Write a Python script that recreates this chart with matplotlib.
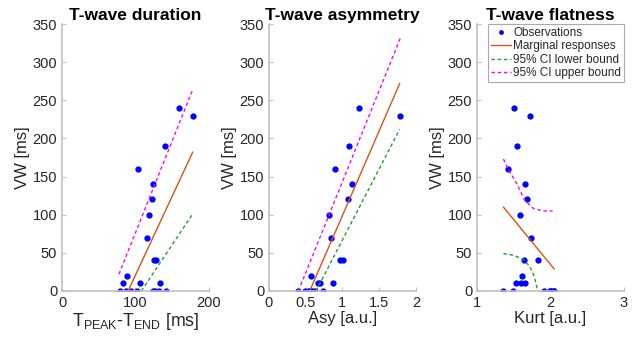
import matplotlib.pyplot as plt

plt.rcParams['font.family'] = ['Liberation Sans', 'DejaVu Sans']
plt.rcParams['mathtext.fontset'] = 'custom'
plt.rcParams['mathtext.rm'] = 'Liberation Sans'
plt.rcParams['mathtext.it'] = 'Liberation Sans'

# observations (VW in ms)
vw = [240, 230, 190, 160, 140, 120, 100, 70, 40, 40, 20, 10, 10, 10,
      0, 0, 0, 0, 0, 0, 0, 0]

# T-wave duration (Tpeak-Tend, ms)
tpe = [159, 178, 140, 103, 124, 123, 118, 116, 125, 128, 89, 83, 106, 134,
       78.5, 86.5, 94, 102, 124, 126, 132, 141]
tpe_fit_x = [90, 178]
tpe_fit_y = [0, 182]
tpe_lo_x = [108, 178]
tpe_lo_y = [0, 101]
tpe_hi_x = [77.5, 178]
tpe_hi_y = [22, 264]

# T-wave asymmetry
asy = [1.23, 1.78, 1.09, 0.905, 1.13, 1.07, 0.815, 0.84, 0.97, 1.01, 0.577,
       0.67, 0.70, 0.87, 0.40, 0.49, 0.545, 0.55, 0.577, 0.58, 0.62, 0.73]
asy_fit_x = [0.554, 1.78]
asy_fit_y = [0, 272]
asy_lo_x = [0.64, 1.78]
asy_lo_y = [0, 212]
asy_hi_x = [0.40, 1.79]
asy_hi_y = [0, 332]

# T-wave flatness (kurtosis)
kurt = [1.50, 1.72, 1.55, 1.42, 1.65, 1.68, 1.58, 1.73, 1.64, 1.83, 1.61,
        1.53, 1.60, 1.66, 1.36, 1.49, 1.91, 1.99, 2.02, 2.05, 2.05, 1.99]
kurt_fit_x = [1.36, 2.05]
kurt_fit_y = [110, 29]
kurt_lo_x = [1.36, 1.49, 1.63, 1.72, 1.78, 1.82]
kurt_lo_y = [49, 47, 41.5, 32, 19, 3.5]
kurt_hi_x = [1.36, 1.43, 1.54, 1.65, 1.77, 1.90, 2.03]
kurt_hi_y = [173, 159, 141, 119, 108, 105, 105]

panels = [
    ("T-wave duration", r"T$_{\mathrm{PEAK}}$-T$_{\mathrm{END}}$ [ms]", tpe,
     (tpe_fit_x, tpe_fit_y), (tpe_lo_x, tpe_lo_y), (tpe_hi_x, tpe_hi_y),
     (0, 200), [0, 100, 200]),
    ("T-wave asymmetry", "Asy [a.u.]", asy,
     (asy_fit_x, asy_fit_y), (asy_lo_x, asy_lo_y), (asy_hi_x, asy_hi_y),
     (0, 2), [0, 0.5, 1, 1.5, 2]),
    ("T-wave flatness", "Kurt [a.u.]", kurt,
     (kurt_fit_x, kurt_fit_y), (kurt_lo_x, kurt_lo_y), (kurt_hi_x, kurt_hi_y),
     (1, 3), [1, 2, 3]),
]

fig = plt.figure(figsize=(6.44, 3.37), dpi=100)
lefts = [0.0963, 0.4177, 0.7407]
txt = '#262626'
spine = '#c0c0c0'

for i, (left, (title, xlab, x, fit, lo, hi, xlim, xticks)) in enumerate(zip(lefts, panels)):
    ax = fig.add_axes([left, 0.1365, 0.228, 0.792])
    ax.plot(x, vw, '.', color='#0000ff', markersize=7, label='Observations')
    ax.plot(fit[0], fit[1], '-', color='#d95319', lw=1, label='Marginal responses')
    ax.plot(lo[0], lo[1], '--', color='#22a022', lw=1, dashes=(2.5, 2),
            label='95% CI lower bound')
    ax.plot(hi[0], hi[1], '--', color='#ff00ff', lw=1, dashes=(2.5, 2),
            label='95% CI upper bound')
    ax.set_xlim(xlim)
    ax.set_ylim(0, 350)
    ax.set_xticks(xticks)
    ax.set_xticklabels([f'{t:g}' for t in xticks])
    ax.set_yticks(range(0, 351, 50))
    ax.set_title(title, fontsize=12.5, fontweight='bold', color='black', pad=3)
    ax.set_xlabel(xlab, fontsize=12.8 if i == 0 else 12, color=txt, labelpad=1)
    ax.set_ylabel('VW [ms]', fontsize=12, color=txt, labelpad=2)
    ax.tick_params(direction='in', labelsize=10.5, colors=txt, length=3,
                   color=spine)
    for s in ['top', 'right']:
        ax.spines[s].set_visible(False)
    for s in ['left', 'bottom']:
        ax.spines[s].set_color(spine)
        ax.spines[s].set_linewidth(1.2)

leg = ax.legend(loc='upper right', fontsize=8.5, fancybox=False,
                edgecolor='#aaaaaa', framealpha=1, handlelength=1.7,
                handletextpad=0.15, borderpad=0.25, labelspacing=0.12,
                borderaxespad=0.0, bbox_to_anchor=(1.0, 1.0), markerscale=0.7)
leg.get_frame().set_linewidth(0.8)
for t in leg.get_texts():
    t.set_color(txt)

fig.savefig('out.png', dpi=100)
